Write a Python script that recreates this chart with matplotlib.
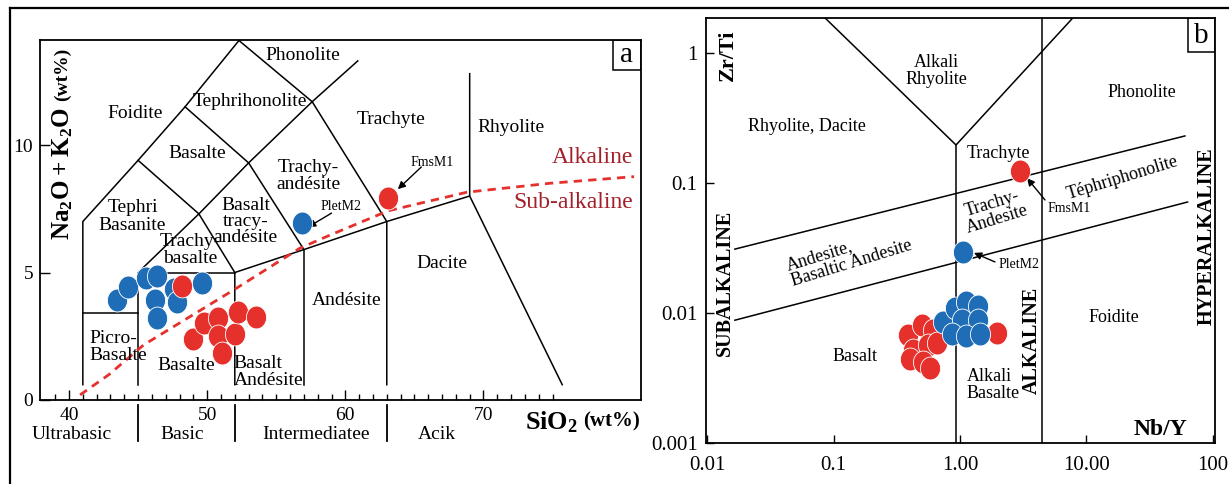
import numpy as np
import matplotlib
matplotlib.use('Agg')
import matplotlib.pyplot as plt
from matplotlib.path import Path
from matplotlib.transforms import Affine2D
from matplotlib.lines import Line2D
from matplotlib.patches import Rectangle
from matplotlib.ticker import NullLocator

plt.rcParams['font.family'] = ['Liberation Serif', 'DejaVu Serif']
plt.rcParams['mathtext.fontset'] = 'custom'
plt.rcParams['mathtext.rm'] = 'Liberation Serif'
plt.rcParams['mathtext.bf'] = 'Liberation Serif:bold'

blue = '#1f6db6'
red = '#e5302b'
dark_red = '#a3202b'

# TAS: SiO2 (wt%) vs Na2O+K2O (wt%)
tas_blue_sio2 = [43.5, 44.3, 45.6, 46.4, 46.2, 46.4, 47.6, 47.8, 49.6]
tas_blue_alk = [3.92, 4.43, 4.78, 4.86, 3.92, 3.22, 4.35, 3.84, 4.59]
tas_red_sio2 = [48.2, 49.0, 49.8, 50.8, 50.8, 52.0, 51.1, 52.2, 53.5]
tas_red_alk = [4.47, 2.39, 3.02, 3.22, 2.51, 2.59, 1.84, 3.45, 3.25]
pletm2_tas = (56.85, 6.94)
fmsm1_tas = (63.1, 7.92)

# alkaline / sub-alkaline divide (Irvine & Baragar)
ib_sio2 = [40.8, 42.9, 45.4, 51.9, 56.7, 58.9, 63.1, 68.8, 74.8, 80.9]
ib_alk = [0.2, 1.0, 2.16, 4.31, 5.95, 6.47, 7.42, 8.15, 8.5, 8.76]

# Zr/Ti vs Nb/Y
wf_blue_nby = [0.734, 0.913, 1.115, 1.39, 1.037, 1.39, 0.865, 1.115, 1.44]
wf_blue_zrti = [0.0085, 0.0109, 0.0122, 0.0113, 0.0088, 0.0088, 0.0069, 0.0067, 0.0069]
wf_red_nby = [0.388, 0.501, 0.612, 0.425, 0.558, 0.658, 0.403, 0.510, 0.579, 1.96]
wf_red_zrti = [0.0068, 0.0081, 0.0074, 0.0052, 0.0057, 0.0059, 0.0044, 0.0042, 0.0038, 0.0070]
pletm2_wf = (1.056, 0.0295)
fmsm1_wf = (2.98, 0.124)

# field boundaries, TAS (Le Bas et al.)
tas_lines = [
    [(41, 0.6), (41, 7.0), (45, 9.4), (48.4, 11.5), (52.3, 14.1)],
    [(41, 3.4), (45, 3.4)],
    [(45, 0.6), (45, 5.0)],
    [(45, 5.0), (52, 5.0)],
    [(45, 5.0), (49.4, 7.3), (52, 5.0)],
    [(45, 9.4), (49.4, 7.3), (53, 9.3), (57.6, 11.7), (60.9, 13.3)],
    [(48.4, 11.5), (53, 9.3), (57, 5.9)],
    [(52.3, 14.1), (57.6, 11.7), (63, 7.0), (63, 0.6)],
    [(52, 0.6), (52, 5.0), (57, 5.9), (63, 7.0), (69, 8.0), (69, 12.8)],
    [(57, 0.6), (57, 5.9)],
    [(69, 8.0), (75.7, 0.6)],
]

# field boundaries, Zr/Ti - Nb/Y (Pearce)
wf_lines = [
    [(0.0857, 1.86), (0.93, 0.196), (7.8, 1.86)],
    [(0.93, 0.001), (0.93, 0.196)],
    [(4.45, 0.001), (4.45, 2.0)],
    [(0.0166, 0.031), (60.0, 0.23)],
    [(0.0166, 0.0088), (63.0, 0.0714)],
]

ell = Path.unit_circle().transformed(Affine2D().scale(0.88, 1.0))
mk = dict(ls='none', marker=ell, ms=16.5, mec='white', mew=0.6, zorder=5)
arr = dict(arrowstyle='-|>', color='k', lw=1.0, mutation_scale=11, shrinkA=0, shrinkB=0)

fig = plt.figure(figsize=(12.29, 4.84), dpi=100)

# outer frame
fig.add_artist(Line2D([10/1229, 10/1229], [0, 1 - 8/484], transform=fig.transFigure, color='k', lw=1.6))
fig.add_artist(Line2D([10/1229, 1], [1 - 8/484, 1 - 8/484], transform=fig.transFigure, color='k', lw=1.6))

# ---- a: TAS ----
ax1 = fig.add_axes([40/1229, 84/484, 601/1229, 360/484])
for seg in tas_lines:
    xs, ys = zip(*seg)
    ax1.plot(xs, ys, color='k', lw=1.1, zorder=2)
ax1.plot(ib_sio2, ib_alk, color=red, lw=2.0, dashes=(3, 2.2), zorder=3)

ax1.plot(tas_blue_sio2, tas_blue_alk, mfc=blue, **mk)
ax1.plot(tas_red_sio2, tas_red_alk, mfc=red, **mk)
ax1.plot(*pletm2_tas, mfc=blue, **mk)
ax1.plot(*fmsm1_tas, mfc=red, **mk)

ax1.annotate('', xy=(57.3, 6.78), xytext=(59.0, 7.33), arrowprops=arr)
ax1.annotate('', xy=(63.8, 8.27), xytext=(65.5, 9.14), arrowprops=arr)
ax1.text(59.7, 7.57, 'PletM2', fontsize=10, ha='center', va='center')
ax1.text(66.25, 9.3, 'FmsM1', fontsize=10, ha='center', va='center')

fs = 14
ax1.text(56.9, 13.5, 'Phonolite', fontsize=fs, ha='center', va='center')
ax1.text(44.8, 11.25, 'Foidite', fontsize=fs, ha='center', va='center')
ax1.text(53.1, 11.7, 'Tephrihonolite', fontsize=fs, ha='center', va='center')
ax1.text(49.3, 9.65, 'Basalte', fontsize=fs, ha='center', va='center')
ax1.text(63.3, 11.0, 'Trachyte', fontsize=fs, ha='center', va='center')
ax1.text(72.0, 10.7, 'Rhyolite', fontsize=fs, ha='center', va='center')
ax1.text(57.3, 8.8, 'Trachy-\nandésite', fontsize=fs, ha='center', va='center', linespacing=1.0)
ax1.text(44.6, 7.2, 'Tephri\nBasanite', fontsize=fs, ha='center', va='center', linespacing=1.05)
ax1.text(52.8, 7.0, 'Basalt\ntracy-\nandésite', fontsize=fs, ha='center', va='center', linespacing=0.95)
ax1.text(48.8, 5.9, 'Trachy-\nbasalte', fontsize=fs, ha='center', va='center', linespacing=1.0)
ax1.text(41.5, 2.08, 'Picro-\nBasalte', fontsize=fs, ha='left', va='center', linespacing=1.0)
ax1.text(48.45, 1.37, 'Basalte', fontsize=fs, ha='center', va='center')
ax1.text(51.9, 1.1, 'Basalt\nAndésite', fontsize=fs, ha='left', va='center', linespacing=1.0)
ax1.text(60.1, 3.92, 'Andésite', fontsize=fs, ha='center', va='center')
ax1.text(67.0, 5.37, 'Dacite', fontsize=fs, ha='center', va='center')
ax1.text(80.8, 9.53, 'Alkaline', fontsize=17, color=dark_red, ha='right', va='center')
ax1.text(80.8, 7.73, 'Sub-alkaline', fontsize=17, color=dark_red, ha='right', va='center')

ax1.set_xlim(37.9, 81.4)
ax1.set_ylim(0, 14.12)
ax1.set_xticks([40, 50, 60, 70])
ax1.set_xticks([v for v in range(39, 76) if v % 10], minor=True)
ax1.set_yticks([0, 5, 10])
ax1.tick_params(direction='in', length=7, width=1, labelsize=14, pad=5)
ax1.tick_params(which='minor', direction='in', length=4, width=1)
for s in ax1.spines.values():
    s.set_linewidth(1.3)

ax1.text(0.037, 0.63, r'$\mathbf{Na_2O + K_2O}$', transform=ax1.transAxes, rotation=90,
         fontsize=18, ha='center', va='center')
ax1.text(0.037, 0.905, '(wt%)', transform=ax1.transAxes, rotation=90, fontsize=14,
         fontweight='bold', ha='center', va='center')
ax1.text(0.807, -0.061, r'$\mathbf{SiO_2}$', transform=ax1.transAxes, fontsize=19,
         ha='left', va='center')
ax1.text(0.903, -0.061, '(wt%)', transform=ax1.transAxes, fontsize=15,
         fontweight='bold', ha='left', va='center')

trans = ax1.get_xaxis_transform()
for v in [45, 52, 63]:
    ax1.plot([v, v], [-0.014, -0.114], transform=trans, clip_on=False, color='k', lw=1.3)
for v, name in zip([40.2, 48.2, 57.9, 66.6], ['Ultrabasic', 'Basic', 'Intermediatee', 'Acik']):
    ax1.text(v, -0.097, name, transform=trans, fontsize=14, ha='center', va='center')

ax1.add_patch(Rectangle((0.953, 0.917), 0.047, 0.083, transform=ax1.transAxes,
                        fill=False, lw=1.1, zorder=6))
ax1.text(0.9765, 0.957, 'a', transform=ax1.transAxes, fontsize=21, ha='center', va='center')

# ---- b: Zr/Ti vs Nb/Y ----
ax2 = fig.add_axes([706/1229, 41/484, 509/1229, 425/484])
ax2.set_xscale('log')
ax2.set_yscale('log')
for seg in wf_lines:
    xs, ys = zip(*seg)
    ax2.plot(xs, ys, color='k', lw=1.1, zorder=2)

ax2.plot(wf_red_nby, wf_red_zrti, mfc=red, **mk)
ax2.plot(wf_blue_nby, wf_blue_zrti, mfc=blue, **mk)
ax2.plot(*pletm2_wf, mfc=blue, **mk)
ax2.plot(*fmsm1_wf, mfc=red, **mk)

ax2.annotate('', xy=(1.29, 0.029), xytext=(1.89, 0.0247), arrowprops=arr)
ax2.annotate('', xy=(3.39, 0.109), xytext=(4.7, 0.074), arrowprops=arr)
ax2.text(2.0, 0.0234, 'PletM2', fontsize=10, ha='left', va='center')
ax2.text(4.96, 0.0642, 'FmsM1', fontsize=10, ha='left', va='center')

fb = 13
ax2.text(0.646, 0.727, 'Alkali\nRhyolite', fontsize=fb, ha='center', va='center', linespacing=0.95)
ax2.text(0.0618, 0.27, 'Rhyolite, Dacite', fontsize=fb, ha='center', va='center')
ax2.text(27.5, 0.50, 'Phonolite', fontsize=fb, ha='center', va='center')
ax2.text(2.0, 0.17, 'Trachyte', fontsize=fb, ha='center', va='center')
ax2.text(1.89, 0.06, 'Trachy-\nAndesite', fontsize=fb, ha='center', va='center',
         rotation=17, rotation_mode='anchor', linespacing=0.95)
ax2.text(19.4, 0.109, 'Téphriphonolite', fontsize=fb, ha='center', va='center',
         rotation=17, rotation_mode='anchor')
ax2.text(0.0449, 0.020, 'Andesite,\nBasaltic Andesite', fontsize=fb, ha='left', va='center',
         rotation=17, rotation_mode='anchor', linespacing=0.95)
ax2.text(0.148, 0.00459, 'Basalt', fontsize=fb, ha='center', va='center')
ax2.text(1.136, 0.00279, 'Alkali\nBasalte', fontsize=fb, ha='left', va='center', linespacing=0.95)
ax2.text(16.5, 0.0093, 'Foidite', fontsize=fb, ha='center', va='center')

ax2.text(0.043, 0.913, 'Zr/Ti', transform=ax2.transAxes, rotation=90, fontsize=16,
         fontweight='bold', ha='center', va='center')
ax2.text(0.037, 0.376, 'SUBALKALINE', transform=ax2.transAxes, rotation=90, fontsize=14.5,
         fontweight='bold', ha='center', va='center')
ax2.text(0.640, 0.242, 'ALKALINE', transform=ax2.transAxes, rotation=90, fontsize=14.5,
         fontweight='bold', ha='center', va='center')
ax2.text(0.984, 0.487, 'HYPERALKALINE', transform=ax2.transAxes, rotation=90, fontsize=14.5,
         fontweight='bold', ha='center', va='center')
ax2.text(0.892, 0.031, 'Nb/Y', transform=ax2.transAxes, fontsize=17,
         fontweight='bold', ha='center', va='center')

ax2.set_xlim(10**-2.008, 10**2.016)
ax2.set_ylim(0.001, 10**0.269)
ax2.set_xticks([0.01, 0.1, 1, 10, 100])
ax2.set_xticklabels(['0.01', '0.1', '1.00', '10.00', '100'])
ax2.set_yticks([0.001, 0.01, 0.1, 1])
ax2.set_yticklabels(['0.001', '0.01', '0.1', '1'])
ax2.xaxis.set_minor_locator(NullLocator())
ax2.yaxis.set_minor_locator(NullLocator())
ax2.tick_params(direction='in', length=6, width=1, labelsize=15)
ax2.tick_params(axis='x', pad=9)
ax2.tick_params(axis='y', pad=6)
for s in ax2.spines.values():
    s.set_linewidth(1.3)

ax2.add_patch(Rectangle((0.947, 0.92), 0.053, 0.08, transform=ax2.transAxes,
                        fill=False, lw=1.1, zorder=6))
ax2.text(0.9735, 0.958, 'b', transform=ax2.transAxes, fontsize=21, ha='center', va='center')

fig.savefig('out.png', dpi=100)
